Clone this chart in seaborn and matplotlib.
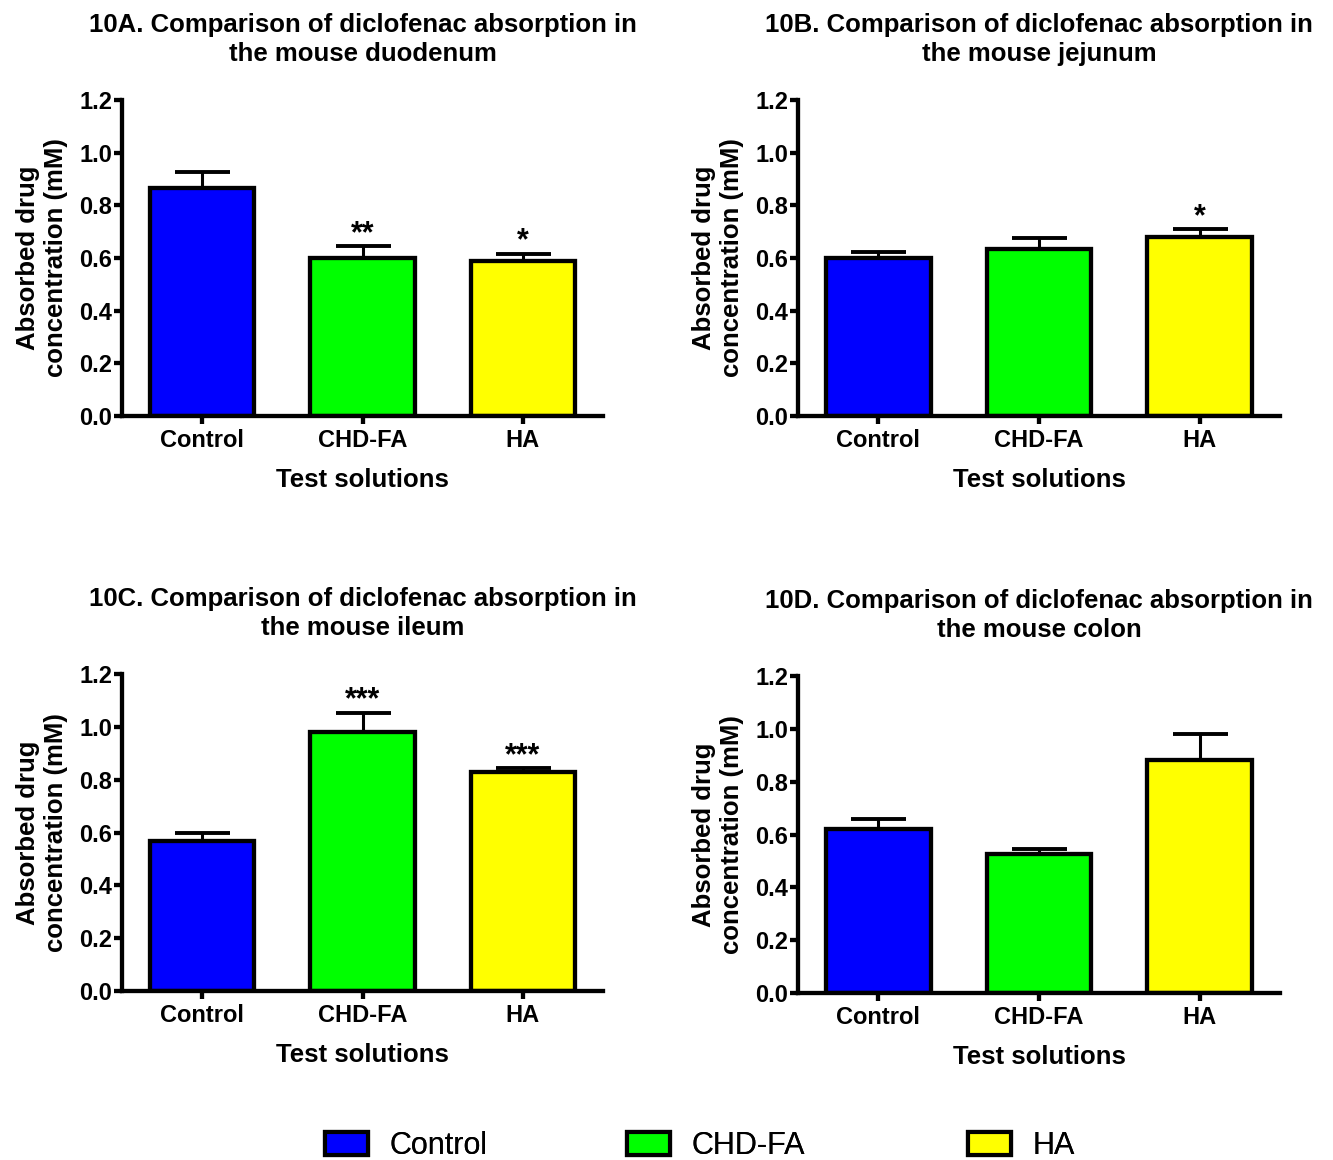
import numpy as np
import matplotlib
matplotlib.use("Agg")
import matplotlib.pyplot as plt
from matplotlib.patches import Patch
import seaborn as sns

sns.set_style("ticks")
plt.rcParams['font.family'] = ['Liberation Sans', 'DejaVu Sans']
plt.rcParams.update({
    "text.color": "black",
    "axes.labelcolor": "black",
    "xtick.color": "black",
    "ytick.color": "black",
})

# Test solutions and bar colours
categories = ["Control", "CHD-FA", "HA"]
colors = ["#0000FF", "#00FF00", "#FFFF00"]

# Mean absorbed diclofenac (mM) and SEM per intestinal segment
duodenum_mean = [0.865, 0.601, 0.587]
duodenum_sem = [0.062, 0.043, 0.029]
duodenum_sig = ["", "**", "*"]

jejunum_mean = [0.601, 0.633, 0.681]
jejunum_sem = [0.020, 0.042, 0.028]
jejunum_sig = ["", "", "*"]

ileum_mean = [0.567, 0.980, 0.830]
ileum_sem = [0.030, 0.074, 0.014]
ileum_sig = ["", "***", "***"]

colon_mean = [0.622, 0.528, 0.881]
colon_sem = [0.038, 0.019, 0.101]
colon_sig = ["", "", ""]

titles = [
    "10A. Comparison of diclofenac absorption in\nthe mouse duodenum",
    "10B. Comparison of diclofenac absorption in\nthe mouse jejunum",
    "10C. Comparison of diclofenac absorption in\nthe mouse ileum",
    "10D. Comparison of diclofenac absorption in\nthe mouse colon",
]
ylabel = "Absorbed drug\nconcentration (mM)"
xlabel = "Test solutions"
yticks = [0.0, 0.2, 0.4, 0.6, 0.8, 1.0, 1.2]

panels = [
    (duodenum_mean, duodenum_sem, duodenum_sig),
    (jejunum_mean, jejunum_sem, jejunum_sig),
    (ileum_mean, ileum_sem, ileum_sig),
    (colon_mean, colon_sem, colon_sig),
]

W, H = 1333, 1160
fig = plt.figure(figsize=(W / 100, H / 100), dpi=100)

# axes boxes in pixels: left, bottom(y from top), width, height
boxes = [
    (122, 416, 481, 316),
    (798, 416, 482, 316),
    (122, 991, 481, 317),
    (798, 993, 482, 317),
]

LW = 3.1
for (means, sems, sigs), title, (l, b, w, h) in zip(panels, titles, boxes):
    ax = fig.add_axes([l / W, 1 - b / H, w / W, h / H])
    sns.barplot(x=categories, y=means, hue=categories, palette=colors,
                saturation=1, width=0.65, edgecolor="black", linewidth=LW,
                errorbar=None, legend=False, ax=ax, zorder=2)
    ax.errorbar(x=np.arange(3), y=means, yerr=[np.zeros(3), sems],
                fmt="none", ecolor="black", elinewidth=2.2,
                capsize=19.8, capthick=2.8, zorder=1)
    for i, s in enumerate(sigs):
        if s:
            ax.annotate(s, (i, means[i] + sems[i]), xytext=(0, 3),
                        textcoords="offset points", ha="center",
                        va="baseline", fontsize=22, fontweight="bold")
    ax.set_xlim(-0.5, 2.5)
    ax.set_ylim(0, 1.2)
    ax.set_yticks(yticks)
    ax.set_yticklabels([f"{t:.1f}" for t in yticks])
    sns.despine(ax=ax)
    for sp in ("left", "bottom"):
        ax.spines[sp].set_linewidth(LW)
        ax.spines[sp].set_color("black")
    ax.tick_params(axis="y", length=6, width=LW, pad=1, labelsize=17)
    ax.tick_params(axis="x", length=6, width=LW, pad=3, labelsize=17)
    for t in ax.get_xticklabels() + ax.get_yticklabels():
        t.set_fontweight("bold")
    ax.set_xlabel(xlabel, fontsize=18.5, fontweight="bold", labelpad=12)
    ax.set_ylabel(ylabel, fontsize=18.5, fontweight="bold")
    ax.yaxis.set_label_coords(-0.112, 0.5)
    ax.set_title(title, fontsize=18.5, fontweight="bold", pad=28,
                 linespacing=1.27)

# Shared legend: one entry per test solution along the bottom edge
legend_x = [325, 627, 968]
for c, name, x in zip(colors, categories, legend_x):
    handle = Patch(facecolor=c, edgecolor="black", linewidth=3)
    leg = fig.legend([handle], [name], loc="center left",
                     bbox_to_anchor=(x / W, 0.012), frameon=False,
                     fontsize=22, handlelength=1.4, handleheight=0.75,
                     handletextpad=0.7, borderpad=0, borderaxespad=0)
    fig.add_artist(leg)

fig.savefig("out.png", dpi=100)
